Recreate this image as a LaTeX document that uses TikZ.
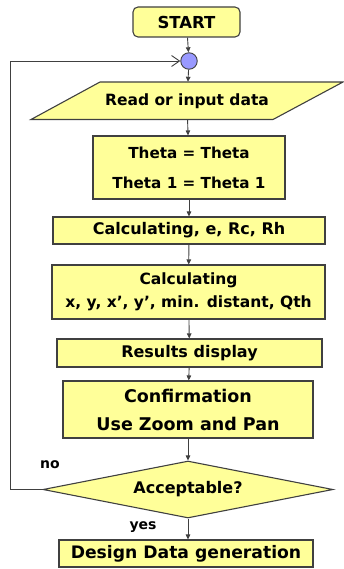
\documentclass[tikz,border=0pt]{standalone}
\usepackage{fontspec}
\setmainfont{DejaVu Sans}
\usetikzlibrary{arrows.meta,shapes.geometric}
\definecolor{boxfill}{HTML}{FFFF99}
\definecolor{dotfill}{HTML}{9999FF}
\definecolor{edge}{HTML}{404040}
\tikzset{
  box/.style={draw=edge,line width=1.1pt,fill=boxfill,inner sep=0pt,align=center,font=\bfseries\fontsize{16}{30}\selectfont},
  conn/.style={draw=edge,line width=0.9pt,-{Triangle[length=5pt,width=4.5pt]}},
  lbl/.style={font=\bfseries\fontsize{14}{16}\selectfont,inner sep=0pt}
}
\begin{document}
\begin{tikzpicture}[x=1pt,y=-1pt]
\useasboundingbox (0,0) rectangle (344,569);
\node[box,rounded corners=5pt,minimum width=107pt,minimum height=30pt,font=\bfseries\fontsize{16.5}{20}\selectfont] (start) at (186.5,22) {START};
\node[draw=edge,line width=0.9pt,fill=dotfill,circle,minimum size=16.5pt,inner sep=0pt] (dot) at (189,61) {};
\draw[draw=edge,line width=1.1pt,fill=boxfill] (100,82) -- (343,82) -- (273,119.5) -- (31,119.5) -- cycle;
\node[inner sep=0pt,minimum width=150pt,minimum height=37.5pt,font=\bfseries\fontsize{15.5}{18}\selectfont] (read) at (187,100.75) {Read or input data};
\node[box,minimum width=192pt,minimum height=63pt,font=\bfseries\fontsize{15.2}{30}\selectfont] (theta) at (189,167.5) {Theta = Theta\\Theta 1 = Theta 1};
\node[box,minimum width=272pt,minimum height=27pt] (calc1) at (189,230.5) {Calculating, e, Rc, Rh};
\node[box,minimum width=273pt,minimum height=54pt,font=\bfseries\fontsize{15.5}{23}\selectfont] (calc2) at (188.5,292) {Calculating\\x, y, x', y', min. distant, Qth};
\node[box,minimum width=265pt,minimum height=28pt] (res) at (189.5,353) {Results display};
\node[box,minimum width=250pt,minimum height=57pt,font=\bfseries\fontsize{17.5}{28}\selectfont] (conf) at (188,409.5) {Confirmation\\Use Zoom and Pan};
\node[box,diamond,aspect=5.1,minimum width=290pt,minimum height=57pt] (acc) at (188,489.5) {Acceptable?};
\node[box,minimum width=254pt,minimum height=27pt,font=\bfseries\fontsize{17.2}{20}\selectfont] (design) at (186,553.5) {Design Data generation};
\draw[conn] (start) -- (dot);
\draw[conn] (dot) -- (read);
\draw[conn] (read) -- (theta);
\draw[conn] (theta) -- (calc1);
\draw[conn] (calc1) -- (calc2);
\draw[conn] (calc2) -- (res);
\draw[conn] (res) -- (conf);
\draw[conn] (conf) -- (acc);
\draw[conn] (acc) -- (acc.south |- design.north);
\draw[draw=edge,line width=0.9pt,-{Straight Barb[length=8pt,width=11pt]}] (acc.west) -- (10,489.5) -- (10,61) -- (dot.west);
\node[lbl] (no) at (50,465) {no};
\node[lbl] (yes) at (143,527) {yes};
\end{tikzpicture}
\end{document}
